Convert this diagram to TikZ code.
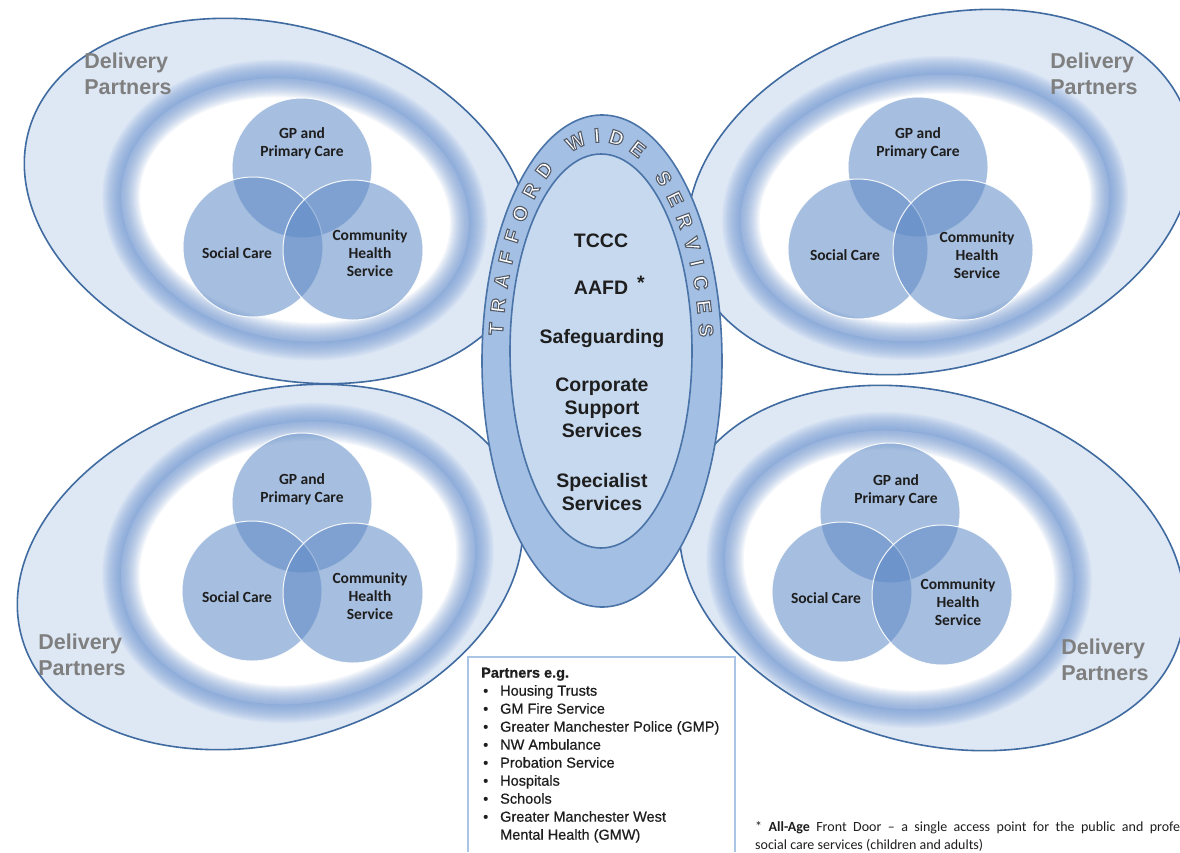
\documentclass[tikz,border=0pt]{standalone}
\usepackage{fontspec}
\setmainfont{Liberation Sans}
\newfontfamily\calibrifont{Carlito}
\newfontfamily\listfont{Liberation Sans}[FakeBold=0.6]
\usetikzlibrary{decorations.text}

\definecolor{wingedge}{HTML}{406BA0}
\definecolor{wingfill}{HTML}{DEE8F5}
\definecolor{glow}{RGB}{110,150,210}
\definecolor{venn}{RGB}{97,140,199}
\definecolor{ringfill}{HTML}{A3BFE3}
\definecolor{corefill}{HTML}{C7D9EF}
\definecolor{coreedge}{HTML}{4A73A8}
\definecolor{dpgray}{HTML}{7F7F7F}
\definecolor{boxedge}{HTML}{A9C4E4}
\definecolor{labelink}{HTML}{1E1E1E}

% lettering round the central ring: white glyphs with a dark outline
\newcommand\twsfont{\bfseries\fontsize{20}{20}\selectfont\color{white}%
  \special{pdf:literal direct 2 Tr 1.1 w 0.33 0.36 0.41 RG}}
% bullet for the partners list
\newcommand\pbul{\makebox[19pt][l]{\hspace{2pt}•}}

% a tilted wing: #1,#2 centre, #3 tilt, #4,#5 glow centre, #6,#7 glow radii, #8 glow tilt
\newcommand\wingshape[8]{%
  \begin{scope}
    \clip[rotate around={#3:(#1,#2)}] (#1,#2) ellipse [x radius=258, y radius=175];
    \fill[wingfill] (#1,#2) circle [radius=300];
    \begin{scope}[shift={(#4,#5)}, rotate=#8]
      \fill[white] (0,0) ellipse [x radius=#6, y radius=#7];
      \foreach \w in {2,4,...,38}
        \draw[glow, line width=\w pt, opacity=0.055] (0,0) ellipse [x radius=#6, y radius=#7];
    \end{scope}
  \end{scope}
  \draw[wingline, rotate around={#3:(#1,#2)}] (#1,#2) ellipse [x radius=258, y radius=175];
}

\begin{document}
\begin{tikzpicture}[x=1pt, y=-1pt,
  wingline/.style={draw=wingedge, line width=1.6pt},
  venncircle/.style={circle, minimum size=140pt, inner sep=0pt, fill=venn, fill opacity=0.56, draw=white, draw opacity=0.9, line width=1pt},
  vennlabel/.style={font={\calibrifont\bfseries\fontsize{15.5}{18}\selectfont}, align=center, text=labelink, inner sep=0pt},
  dplabel/.style={font={\bfseries\fontsize{21.5}{26}\selectfont}, align=left, text=dpgray, inner sep=0pt},
  corelabel/.style={font={\bfseries\fontsize{19.5}{23}\selectfont}, align=center, text=labelink, inner sep=0pt},
  ringline/.style={draw=coreedge, line width=1.6pt},
]
\useasboundingbox[fill=white] (0,0) rectangle (1180,852);

% ---- four wings ----
\wingshape{277}{201}{-16}{295}{210}{175}{130}{-10}
\wingshape{940}{192}{16}{925}{208}{185}{132}{8}
\wingshape{270}{567}{16}{298}{563}{178}{140}{10}
\wingshape{932}{568}{-16}{899}{570}{175}{138}{-10}

% ---- Venn diagrams ----
\node[venncircle] (tl-gp) at (302,168) {};
\node[venncircle] (tl-sc) at (253,247) {};
\node[venncircle] (tl-ch) at (353,250) {};
\node[venncircle] (tr-gp) at (918,167) {};
\node[venncircle] (tr-sc) at (858,249) {};
\node[venncircle] (tr-ch) at (963,250) {};
\node[venncircle] (bl-gp) at (302,503) {};
\node[venncircle] (bl-sc) at (252,591) {};
\node[venncircle] (bl-ch) at (353,593) {};
\node[venncircle] (br-gp) at (890,513) {};
\node[venncircle] (br-sc) at (842,592) {};
\node[venncircle] (br-ch) at (942,595) {};

\node[vennlabel] (tl-gp-t) at (302,143) {GP and\\Primary Care};
\node[vennlabel] (tl-sc-t) at (237,253) {Social Care};
\node[vennlabel] (tl-ch-t) at (370,253) {Community\\Health\\Service};
\node[vennlabel] (tr-gp-t) at (918,143) {GP and\\Primary Care};
\node[vennlabel] (tr-sc-t) at (845,255) {Social Care};
\node[vennlabel] (tr-ch-t) at (977,255) {Community\\Health\\Service};
\node[vennlabel] (bl-gp-t) at (302,489) {GP and\\Primary Care};
\node[vennlabel] (bl-sc-t) at (237,597) {Social Care};
\node[vennlabel] (bl-ch-t) at (370,596) {Community\\Health\\Service};
\node[vennlabel] (br-gp-t) at (896,490) {GP and\\Primary Care};
\node[vennlabel] (br-sc-t) at (826,598) {Social Care};
\node[vennlabel] (br-ch-t) at (958,602) {Community\\Health\\Service};

% ---- Delivery Partners labels ----
\node[dplabel] (dp-tl) at (128,74) {Delivery\\Partners};
\node[dplabel] (dp-tr) at (1094,74) {Delivery\\Partners};
\node[dplabel] (dp-bl) at (82,655) {Delivery\\Partners};
\node[dplabel] (dp-br) at (1105,660) {Delivery\\Partners};

% ---- central body ----
\draw[ringline, fill=ringfill] (602,361) ellipse [x radius=120, y radius=246];
\draw[ringline, fill=corefill] (601,351) ellipse [x radius=91, y radius=197];

\path[decorate, decoration={text along path, text={|\twsfont|TRAFFORD WIDE SERVICES},
    text align=fit to path, raise=-7.2pt}]
  (601,356) ++(185.5:106 and 221)
  arc [start angle=185.5, end angle=355, x radius=106, y radius=221];

\node[corelabel] (tccc) at (601,241) {TCCC};
\node[corelabel] (aafd) at (601,288) {AAFD};
\node[corelabel] (aafd-star) at (641,283) {*};
\node[corelabel] (safeguarding) at (602,338) {Safeguarding};
\node[corelabel] (corporate) at (602,408) {Corporate\\Support\\Services};
\node[corelabel] (specialist) at (602,492) {Specialist\\Services};

% ---- partners list ----
\draw[boxedge, line width=1.2pt] (468,852) -- (468,657) -- (735,657) -- (735,852);
\node[anchor=north west, inner sep=0pt, align=left, text=labelink,
      font={\listfont\fontsize{14.5}{18}\selectfont}] (partners) at (481,667.5)
  {\textbf{Partners e.g.}\\
   \pbul Housing Trusts\\
   \pbul GM Fire Service\\
   \pbul Greater Manchester Police (GMP)\\
   \pbul NW Ambulance\\
   \pbul Probation Service\\
   \pbul Hospitals\\
   \pbul Schools\\
   \pbul Greater Manchester West\\
   \hspace*{19pt}Mental Health (GMW)};

% ---- footnote ----
\node[anchor=north west, inner sep=0pt, align=left, text=labelink,
      font={\calibrifont\fontsize{14}{18}\selectfont}] (footnote) at (755,821)
  {\makebox[425pt][s]{* \textbf{All-Age} Front Door – a single access point for the public and profe}\\
   social care services (children and adults)};
\end{tikzpicture}
\end{document}
